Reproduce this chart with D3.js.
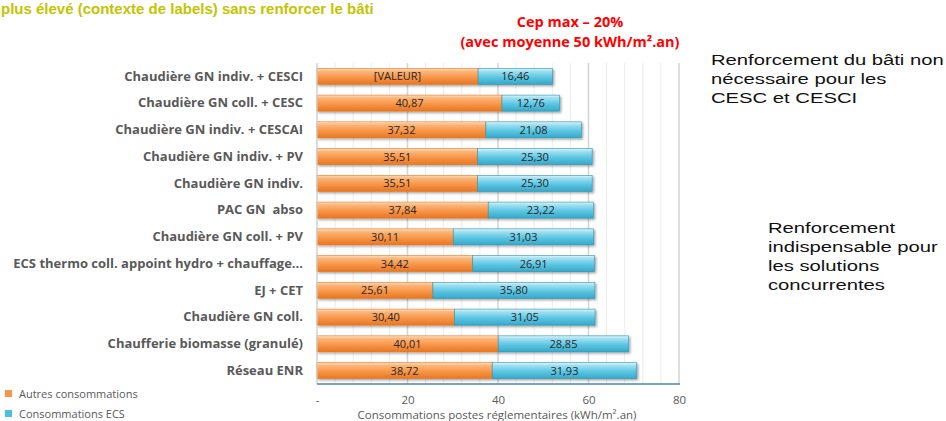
<!DOCTYPE html>
<html>
<head>
<meta charset="utf-8">
<script src="https://cdn.jsdelivr.net/npm/d3@7"></script>
<style>
  html, body { margin: 0; padding: 0; background: #fff; }
  svg { display: block; }
  text { white-space: pre; }
</style>
</head>
<body>
<script>
// data
const categories = [
  'Chaudière GN indiv. + CESCI',
  'Chaudière GN coll. + CESC',
  'Chaudière GN indiv. + CESCAI',
  'Chaudière GN indiv. + PV',
  'Chaudière GN indiv.',
  'PAC GN  abso',
  'Chaudière GN coll. + PV',
  'ECS thermo coll. appoint hydro + chauffage...',
  'EJ + CET',
  'Chaudière GN coll.',
  'Chaufferie biomasse (granulé)',
  'Réseau ENR'
];
const autres = [35.6, 40.87, 37.32, 35.51, 35.51, 37.84, 30.11, 34.42, 25.61, 30.40, 40.04, 38.72];
const ecs = [16.46, 12.76, 21.08, 25.30, 25.30, 23.22, 31.03, 26.91, 35.80, 31.05, 28.85, 31.93];
const autresLabels = ['[VALEUR]', '40,87', '37,32', '35,51', '35,51', '37,84', '30,11', '34,42', '25,61', '30,40', '40,01', '38,72'];
const ecsLabels = ['16,46', '12,76', '21,08', '25,30', '25,30', '23,22', '31,03', '26,91', '35,80', '31,05', '28,85', '31,93'];
const xTicks = [0, 20, 40, 60, 80];
const seriesNames = ['Autres consommations', 'Consommations ECS'];

const width = 946, height = 421;
const plot = { left: 317, right: 679, top: 63, bottom: 384 };

const svg = d3.select('body').append('svg')
  .attr('width', width)
  .attr('height', height);

const defs = svg.append('defs');
function gradient(id, stops) {
  const g = defs.append('linearGradient').attr('id', id)
    .attr('x1', 0).attr('y1', 0).attr('x2', 0).attr('y2', 1);
  stops.forEach(s => g.append('stop').attr('offset', s[0]).attr('stop-color', s[1]));
}
gradient('gOrange', [[0, '#fde0c2'], [0.18, '#fbb679'], [0.55, '#f7964a'], [1, '#e9761f']]);
gradient('gBlue', [[0, '#def4fa'], [0.18, '#9fe0f1'], [0.55, '#5cc6e3'], [1, '#36a8c9']]);
const shadow = defs.append('filter').attr('id', 'shadow')
  .attr('x', '-5%').attr('y', '-20%').attr('width', '115%').attr('height', '160%');
shadow.append('feDropShadow').attr('dx', 1.5).attr('dy', 1.5)
  .attr('stdDeviation', 1).attr('flood-color', '#000').attr('flood-opacity', 0.35);

const x = d3.scaleLinear().domain([0, 80]).range([plot.left, plot.right]);
const y = d3.scaleBand().domain(categories).range([plot.top, plot.bottom]).paddingInner(0.4).paddingOuter(0.2);

// grid
const minor = d3.range(0, 81, 4);
svg.append('g').selectAll('line')
  .data(minor)
  .enter().append('line')
  .attr('x1', d => x(d)).attr('x2', d => x(d))
  .attr('y1', plot.top).attr('y2', plot.bottom)
  .attr('stroke', d => d % 20 === 0 ? '#d4d4d4' : '#ececec')
  .attr('stroke-width', d => d % 20 === 0 ? 1.5 : 1);

// bars
const rows = categories.map((c, i) => ({ c, a: autres[i], e: ecs[i], la: autresLabels[i], le: ecsLabels[i] }));
const bars = svg.append('g').attr('filter', 'url(#shadow)');
bars.selectAll('.a').data(rows).enter().append('rect')
  .attr('x', x(0)).attr('y', d => y(d.c))
  .attr('width', d => x(d.a) - x(0)).attr('height', y.bandwidth())
  .attr('fill', 'url(#gOrange)').attr('stroke', '#e5792a').attr('stroke-width', 0.6);
bars.selectAll('.e').data(rows).enter().append('rect')
  .attr('x', d => x(d.a)).attr('y', d => y(d.c))
  .attr('width', d => x(d.a + d.e) - x(d.a)).attr('height', y.bandwidth())
  .attr('fill', 'url(#gBlue)').attr('stroke', '#2f93b2').attr('stroke-width', 0.6);

const labelFont = "'Open Sans', 'DejaVu Sans', sans-serif";
const lbl = svg.append('g').attr('font-family', labelFont).attr('font-size', 11).attr('fill', '#262626')
  .attr('text-anchor', 'middle');
lbl.selectAll('.la').data(rows).enter().append('text')
  .attr('x', d => (x(0) + x(d.a)) / 2).attr('y', d => y(d.c) + y.bandwidth() / 2 + 4)
  .text(d => d.la);
lbl.selectAll('.le').data(rows).enter().append('text')
  .attr('x', d => (x(d.a) + x(d.a + d.e)) / 2).attr('y', d => y(d.c) + y.bandwidth() / 2 + 4)
  .text(d => d.le);

// axes
svg.append('line').attr('x1', plot.left).attr('x2', plot.left)
  .attr('y1', plot.top).attr('y2', plot.bottom).attr('stroke', '#d9d9d9');
svg.append('line').attr('x1', plot.left).attr('x2', plot.right + 1)
  .attr('y1', plot.bottom).attr('y2', plot.bottom).attr('stroke', '#4f81bd').attr('stroke-width', 1.3);

const yAxis = svg.append('g').attr('transform', `translate(${plot.left - 14},0)`)
  .call(d3.axisLeft(y).tickSize(0).tickPadding(0));
yAxis.select('.domain').remove();
yAxis.selectAll('text').attr('font-family', labelFont).attr('font-size', 13)
  .attr('font-weight', 'bold').attr('fill', '#595959');

const xAxis = svg.append('g').attr('transform', `translate(0,${plot.bottom})`)
  .call(d3.axisBottom(x).tickValues(xTicks).tickSize(0).tickPadding(12)
    .tickFormat(d => d === 0 ? '-' : d));
xAxis.select('.domain').remove();
xAxis.selectAll('text').attr('font-family', labelFont).attr('font-size', 11.5).attr('fill', '#595959');

svg.append('text').attr('x', 497).attr('y', 419).attr('text-anchor', 'middle')
  .attr('font-family', labelFont).attr('font-size', 11.5).attr('fill', '#595959')
  .text('Consommations postes réglementaires (kWh/m².an)');

// legend
const color = ['#f7964a', '#4bc0de'];
const leg = svg.append('g');
seriesNames.forEach((n, i) => {
  const g = leg.append('g').attr('transform', `translate(5,${390 + i * 20})`);
  g.append('rect').attr('width', 7).attr('height', 7).attr('fill', color[i]);
  g.append('text').attr('x', 14).attr('y', 7.5).attr('font-family', labelFont).attr('font-size', 11)
    .attr('fill', '#595959').text(n);
});

// title & annotations
svg.append('text').attr('x', 1).attr('y', 14)
  .attr('font-family', "'Liberation Sans', Arial, sans-serif").attr('font-weight', 'bold')
  .attr('font-size', 15).attr('fill', '#c4c400')
  .text('plus élevé (contexte de labels) sans renforcer le bâti');

const red = svg.append('g').attr('font-family', labelFont).attr('font-weight', 'bold')
  .attr('font-size', 14.5).attr('fill', '#ff0000').attr('text-anchor', 'middle');
red.append('text').attr('x', 570).attr('y', 27).text('Cep max – 20%');
red.append('text').attr('x', 570).attr('y', 47).text('(avec moyenne 50 kWh/m².an)');

function note(lines, x0, y0) {
  const g = svg.append('g').attr('transform', `translate(${x0},${y0}) scale(1.35,1)`)
    .attr('font-family', "'Liberation Sans', Arial, sans-serif").attr('font-size', 15).attr('fill', '#111');
  lines.forEach((t, i) => g.append('text').attr('y', i * 19).text(t));
}
note(['Renforcement du bâti non', 'nécessaire pour les', 'CESC et CESCI'], 711, 65);
note(['Renforcement', 'indispensable pour', 'les solutions', 'concurrentes'], 768, 233);
</script>
</body>
</html>
